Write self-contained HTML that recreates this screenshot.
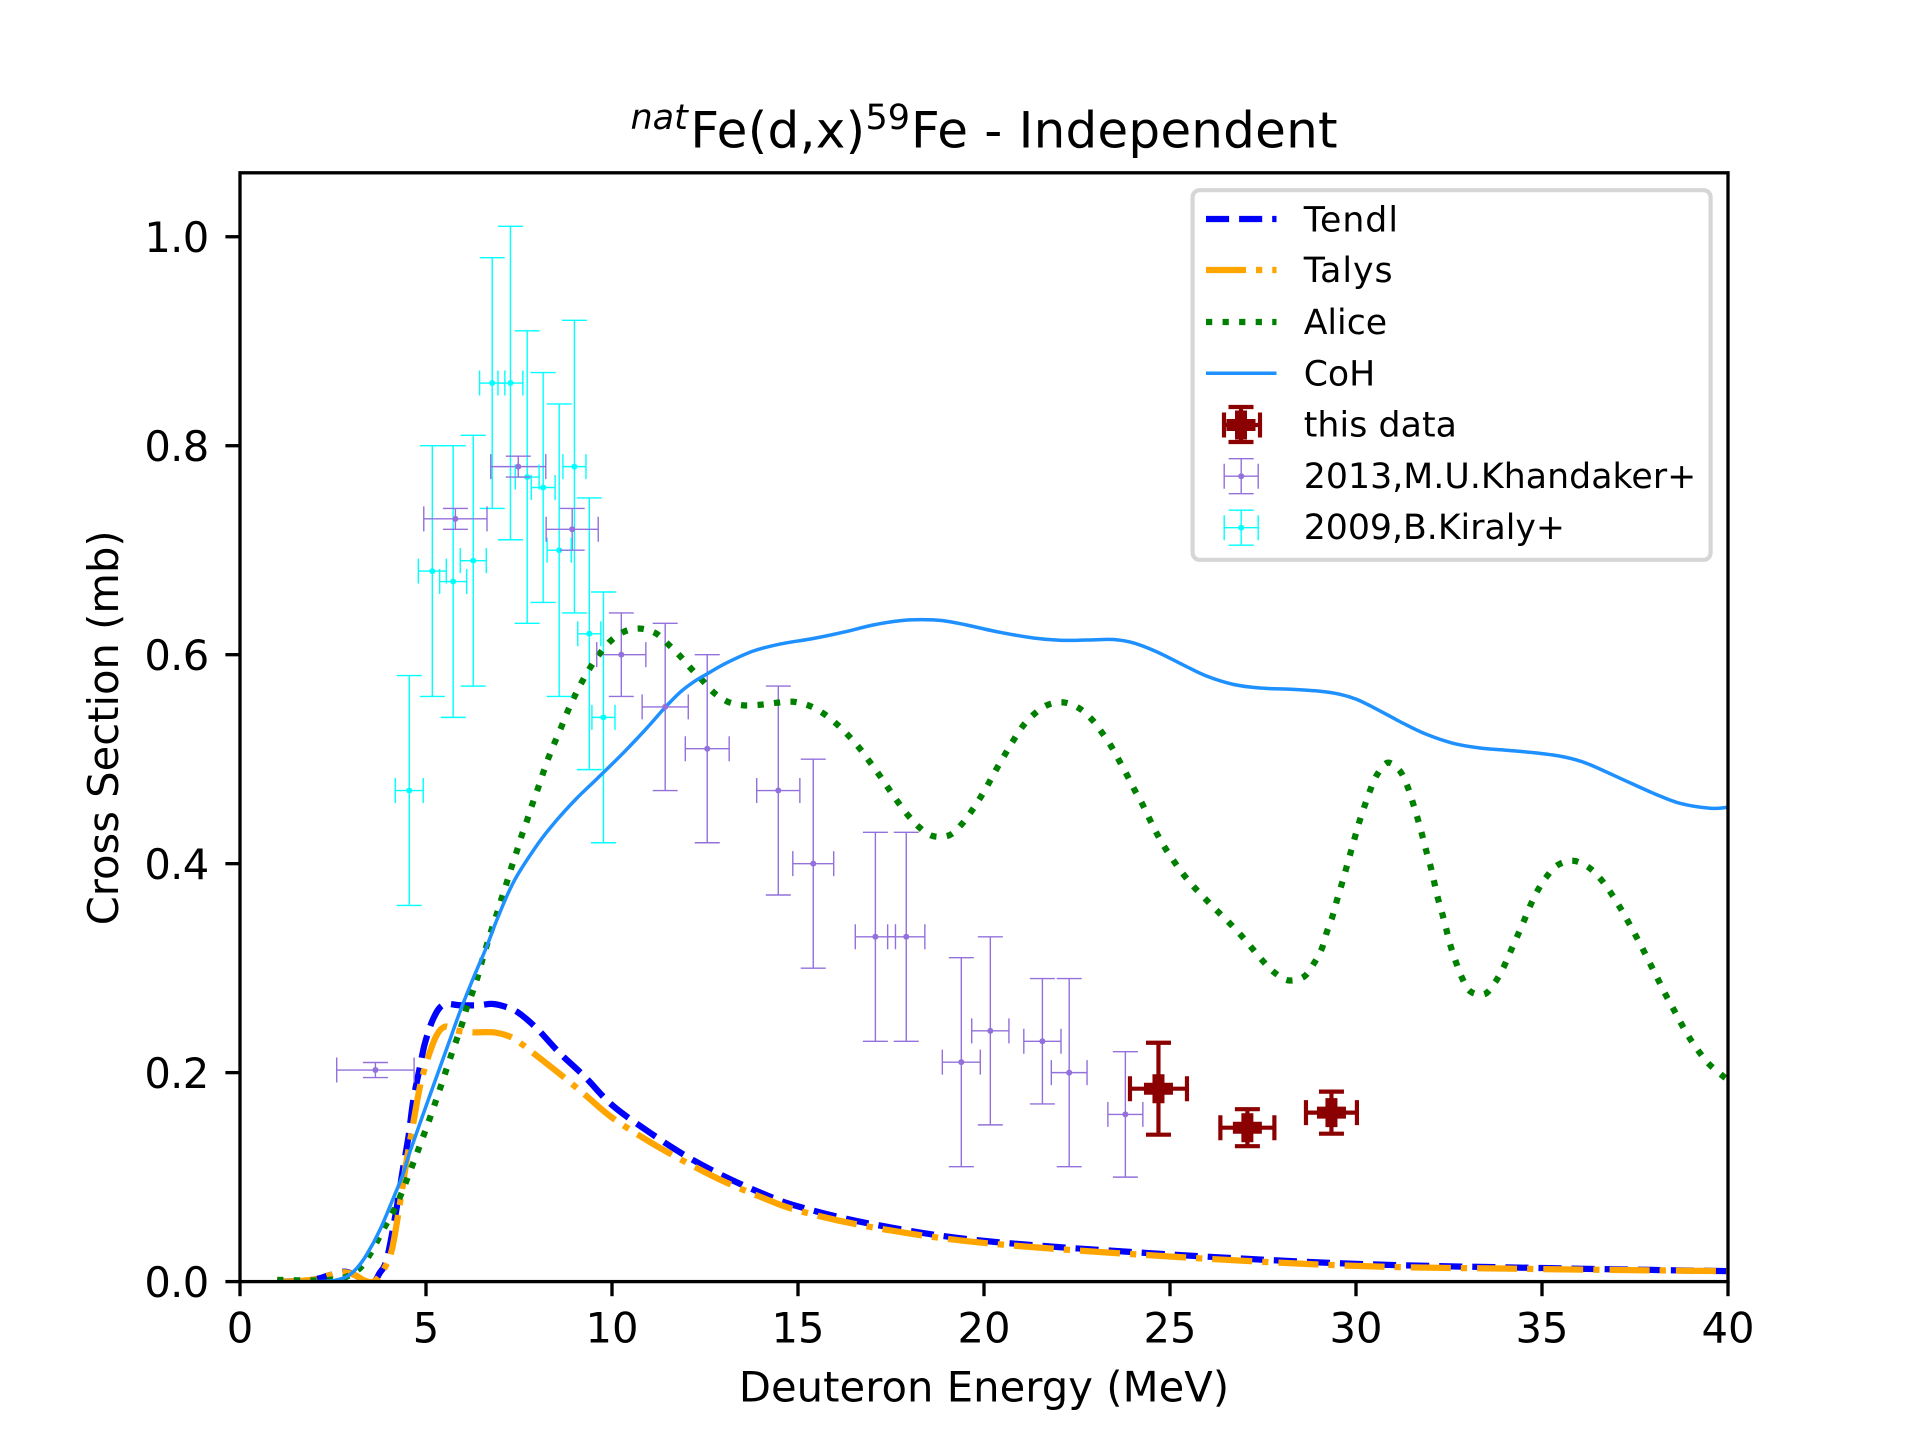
<!DOCTYPE html>
<html lang="en">
<head>
<meta charset="utf-8">
<title>natFe(d,x)59Fe - Independent</title>
<style>
html,body{margin:0;padding:0;background:#fff;}
svg{display:block;}
text{font-family:"DejaVu Sans",sans-serif;fill:#000;}
</style>
</head>
<body>
<svg id="chart" xmlns="http://www.w3.org/2000/svg" width="1920" height="1440" viewBox="0 0 1920 1440">
  <rect x="0" y="0" width="1920" height="1440" fill="#fff"/>
  <defs>
    <clipPath id="axes-clip"><rect x="240" y="172.8" width="1488" height="1108.8"/></clipPath>
  </defs>
  <g id="plot-bars" clip-path="url(#axes-clip)"></g>
  <g id="plot-curves" clip-path="url(#axes-clip)"></g>
  <g id="plot-marks" clip-path="url(#axes-clip)"></g>
  <rect x="240" y="172.8" width="1488" height="1108.8" fill="none" stroke="#000" stroke-width="3.33"/>
  <g id="ticks"></g>

  <text x="630.5" y="147.5" font-size="50"><tspan font-size="35" font-style="italic" y="129">nat</tspan><tspan dx="2.5" y="147.5" letter-spacing="0.3">Fe(d,x)</tspan><tspan font-size="35" y="129">59</tspan><tspan dx="1" y="147.5" letter-spacing="0.2">Fe - Independent</tspan></text>
  <text x="984" y="1401.5" font-size="41.67" text-anchor="middle" letter-spacing="0.06">Deuteron Energy (MeV)</text>
  <text x="0" y="0" font-size="41.67" text-anchor="middle" transform="translate(118 727.8) rotate(-90)">Cross Section (mb)</text>

  <g>
    <rect x="1192.6" y="190.2" width="518" height="369.6" rx="7" ry="7" fill="#fff" fill-opacity="0.8" stroke="#d6d6d6" stroke-width="4.17"/>
    <g>
      <line x1="1206" x2="1276.5" y1="219" y2="219" stroke="#0000ff" stroke-width="6.25" stroke-dasharray="23.1 10"/>
      <text x="1303.7" y="231.7" font-size="34.7" letter-spacing="1">Tendl</text>
    </g>
    <g>
      <line x1="1206" x2="1276.5" y1="270" y2="270" stroke="#ffa500" stroke-width="6.25" stroke-dasharray="40 10 6.25 10"/>
      <text x="1303.7" y="282" font-size="34.7" letter-spacing="1">Talys</text>
    </g>
    <g>
      <line x1="1206" x2="1276.5" y1="322" y2="322" stroke="#008000" stroke-width="6.25" stroke-dasharray="6.25 10.31"/>
      <text x="1303.7" y="333.8" font-size="34.7">Alice</text>
    </g>
    <g>
      <line x1="1206" x2="1276.5" y1="373.3" y2="373.3" stroke="#1e90ff" stroke-width="3.5"/>
      <text x="1303.7" y="385.6" font-size="34.7">CoH</text>
    </g>
    <g fill="none" stroke="#8b0000" stroke-width="4.17">
      <path d="M1241 407V442M1224 425H1260M1228.5 407H1253.5M1228.5 442H1253.5M1224 412.5V437.5M1260 412.5V437.5"/>
      <rect x="1226.5" y="419" width="29" height="12" fill="#8b0000" stroke="none"/>
      <rect x="1235" y="410.5" width="12" height="29" fill="#8b0000" stroke="none"/>
      <text x="1303.7" y="436.4" font-size="34.7" stroke="none" style="fill:#000" letter-spacing="0.1">this data</text>
    </g>
    <g fill="none" stroke="#9370db" stroke-width="1.4">
      <path d="M1241.2 458.7V493.7M1224.2 476.2H1258.2M1228.7 458.7H1253.7M1228.7 493.7H1253.7M1224.2 463.7V488.7M1258.2 463.7V488.7"/>
      <circle cx="1241.2" cy="476.2" r="3" fill="#9370db" stroke="none"/>
      <text x="1303.7" y="487.8" font-size="34.7" stroke="none" style="fill:#000" letter-spacing="0.06">2013,M.U.Khandaker+</text>
    </g>
    <g fill="none" stroke="#00ffff" stroke-width="1.4">
      <path d="M1241.2 510.2V545.2M1224.2 527.7H1258.2M1228.7 510.2H1253.7M1228.7 545.2H1253.7M1224.2 515.2V540.2M1258.2 515.2V540.2"/>
      <circle cx="1241.2" cy="527.7" r="3" fill="#00ffff" stroke="none"/>
      <text x="1303.7" y="539.2" font-size="34.7" stroke="none" style="fill:#000">2009,B.Kiraly+</text>
    </g>
  </g>
</svg>
<script>
// ---------- axis ticks ----------
const xTickValues = [0, 5, 10, 15, 20, 25, 30, 35, 40];
const xTickLabels = ["0", "5", "10", "15", "20", "25", "30", "35", "40"];
const yTickValues = [0, 0.2, 0.4, 0.6, 0.8, 1.0];
const yTickLabels = ["0.0", "0.2", "0.4", "0.6", "0.8", "1.0"];

// ---------- model curves ----------
const tendlEnergy = [1,1.5,2,2.4,2.8,3.1,3.35,3.6,3.75,3.94,4.17,4.39,4.53,4.66,4.84,4.97,5.2,5.47,5.91,6.41,6.81,7.26,7.57,8.02,8.6,9.27,10,11,12,13,14,15,17,20,25,30,35,40];
const tendlValues = [0,.0005,.002,.006,.0095,.006,.0005,0,.008,.0207,.062,.11,.139,.174,.206,.228,.252,.265,.2645,.2645,.2657,.2615,.2551,.2408,.2185,.1961,.169,.143,.12,.101,.085,.072,.055,.039,.026,.017,.013,.01];

const talysEnergy = [1,1.5,2,2.4,2.8,3.1,3.35,3.6,3.85,4.08,4.3,4.48,4.66,4.84,5.06,5.29,5.51,5.8,6.23,6.81,7.26,7.57,7.84,8.69,9.3,10,11,12,13,14,15,17,20,25,30,35,40];
const talysValues = [0,.0005,.002,.006,.009,.006,.001,0,.011,.03,.075,.116,.152,.187,.215,.236,.244,.2405,.2386,.2386,.2344,.2274,.22,.1961,.178,.157,.134,.114,.096,.081,.068,.052,.037,.024,.015,.012,.01];

const aliceEnergy = [1,2,2.5,2.87,3.23,3.49,3.9,4.12,4.3,4.48,4.79,5.1,5.38,5.66,5.96,6.08,6.24,6.38,6.5,6.63,6.76,6.9,7.03,7.17,7.3,7.44,7.57,7.72,7.86,8.01,8.15,8.3,8.46,8.64,8.81,8.99,9.2,9.42,9.67,9.96,10.32,10.75,11.18,11.51,11.83,12.12,12.43,12.74,13.11,13.54,13.99,14.43,14.87,15.3,15.69,16.04,16.35,16.65,16.92,17.18,17.43,17.68,17.96,18.26,18.62,19.06,19.39,19.66,19.9,20.13,20.34,20.57,20.79,21.04,21.34,21.7,22.13,22.55,22.89,23.16,23.41,23.63,23.84,24.04,24.26,24.45,24.65,24.87,25.12,25.38,25.67,25.98,26.29,26.6,26.91,27.2,27.49,27.8,28.18,28.6,28.87,29.08,29.21,29.36,29.48,29.61,29.73,29.85,29.97,30.09,30.23,30.38,30.56,30.85,31.18,31.38,31.52,31.65,31.77,31.88,32,32.1,32.2,32.32,32.43,32.54,32.68,32.84,33.07,33.46,33.75,33.97,34.15,34.33,34.51,34.68,34.87,35.11,35.41,35.83,36.24,36.56,36.83,37.07,37.29,37.5,37.71,37.91,38.11,38.31,38.52,38.73,38.95,39.2,39.48,39.83,40];
const aliceValues = [.0016,.001,.002,.0048,.013,.026,.053,.067,.081,.097,.126,.156,.185,.215,.2456,.2606,.2759,.2908,.3062,.3215,.3365,.3515,.3664,.3818,.3968,.4118,.4267,.4418,.4571,.4721,.487,.502,.516,.531,.546,.56,.5745,.588,.601,.613,.622,.625,.6204,.61,.5987,.5869,.5754,.5636,.555,.5515,.5521,.554,.555,.5512,.5436,.5336,.5228,.5107,.4979,.4852,.4721,.4593,.4462,.4348,.4265,.4271,.4373,.4501,.4631,.4772,.4909,.5049,.518,.5315,.5429,.5518,.5544,.5489,.5384,.526,.5129,.4989,.4851,.4711,.4568,.4427,.4286,.415,.4016,.3888,.3767,.3652,.354,.3432,.3314,.3193,.3071,.296,.2883,.2918,.3046,.3186,.3339,.3487,.364,.3796,.3946,.4099,.4252,.4401,.4552,.4702,.4848,.4966,.4887,.4743,.4593,.444,.4286,.4133,.398,.3827,.3671,.3521,.3368,.3215,.3065,.2915,.2778,.2752,.2871,.3011,.3157,.3301,.3448,.3595,.3735,.3869,.3984,.4028,.3968,.386,.3731,.3597,.3461,.3324,.3183,.304,.2899,.2755,.2618,.2478,.2341,.221,.2085,.1977,.193];

const cohEnergy = [1,2,2.51,2.87,3.14,3.4,3.76,4.12,4.39,4.57,5.06,5.56,5.93,6.27,6.63,6.92,7.37,8.02,8.51,9.05,9.59,10.31,10.93,11.43,11.83,12.19,12.55,13.09,13.8,14.52,15.41,16.22,17.02,17.74,18.3,18.91,19.53,20.43,21.33,22.04,22.76,23.48,24.02,24.64,25.36,25.98,26.7,27.42,28.31,29.03,29.57,30.01,30.55,31.27,31.89,32.61,33.33,34.05,34.86,35.57,36.2,37.1,38,38.71,39.52,40];
const cohValues = [0,0,.001,.0048,.0128,.0255,.0494,.0797,.1037,.1244,.1738,.2233,.26,.2903,.3205,.3475,.3835,.4195,.4415,.4625,.481,.5062,.5295,.5496,.564,.5738,.5815,.5923,.6035,.6102,.6155,.6215,.6284,.6325,.6335,.6325,.6284,.6214,.616,.6138,.614,.6145,.6112,.6028,.5901,.5796,.5716,.5681,.5668,.565,.5621,.5573,.548,.5343,.5238,.5152,.5107,.5085,.5059,.5023,.496,.4817,.4673,.4577,.453,.454];

// ---------- measurements ----------
const thisEnergy = [24.69, 27.08, 29.34];
const thisValues = [0.1846, 0.1473, 0.1617];
const thisEnergyErr = [0.766, 0.726, 0.685];
const thisValueErr = [0.044, 0.0177, 0.0201];

const khandakerEnergy = [3.64, 5.79, 7.48, 8.93, 10.25, 11.43, 12.56, 14.47, 15.41, 17.08, 17.91, 19.39, 20.17, 21.57, 22.29, 23.8];
const khandakerValues = [0.2025, 0.73, 0.78, 0.72, 0.60, 0.55, 0.51, 0.47, 0.40, 0.33, 0.33, 0.21, 0.24, 0.23, 0.20, 0.16];
const khandakerEnergyErr = [1.04, 0.85, 0.74, 0.70, 0.66, 0.62, 0.59, 0.58, 0.55, 0.54, 0.50, 0.51, 0.50, 0.50, 0.48, 0.47];
const khandakerValueErr = [0.0072, 0.01, 0.01, 0.02, 0.04, 0.08, 0.09, 0.10, 0.10, 0.10, 0.10, 0.10, 0.09, 0.06, 0.09, 0.06];

const kiralyEnergy = [4.55, 5.17, 5.73, 6.27, 6.78, 7.27, 7.72, 8.15, 8.58, 8.99, 9.39, 9.77];
const kiralyValues = [0.47, 0.68, 0.67, 0.69, 0.86, 0.86, 0.77, 0.76, 0.70, 0.78, 0.62, 0.54];
const kiralyEnergyErr = [0.376, 0.376, 0.363, 0.35, 0.34, 0.335, 0.32, 0.32, 0.325, 0.31, 0.31, 0.31];
const kiralyValueErr = [0.11, 0.12, 0.13, 0.12, 0.12, 0.15, 0.14, 0.11, 0.14, 0.14, 0.13, 0.12];

// ---------- axis functions ----------
const X_MIN = 0, X_MAX = 40, Y_MIN = 0, Y_MAX = 1.0612;
const LEFT = 240, RIGHT = 1728, TOP = 172.8, BOTTOM = 1281.6;
function xScale(v) { return LEFT + (v - X_MIN) / (X_MAX - X_MIN) * (RIGHT - LEFT); }
function yScale(v) { return BOTTOM - (v - Y_MIN) / (Y_MAX - Y_MIN) * (BOTTOM - TOP); }

const NS = 'http://www.w3.org/2000/svg';
function mk(tag, attrs, parent) {
  const el = document.createElementNS(NS, tag);
  for (const k in attrs) el.setAttribute(k, attrs[k]);
  parent.appendChild(el);
  return el;
}

const ticksG = document.getElementById('ticks');
const barsG = document.getElementById('plot-bars');
const curvesG = document.getElementById('plot-curves');
const marksG = document.getElementById('plot-marks');

xTickValues.forEach(function (v, i) {
  const t = mk('line', {x1: xScale(v), x2: xScale(v), y1: BOTTOM, y2: BOTTOM + 14.6, stroke: '#000', 'stroke-width': 3.33}, ticksG);
  
  
  const l = mk('text', {x: xScale(v), y: 1342.7, 'font-size': 41.67, 'text-anchor': 'middle'}, ticksG);
  l.textContent = xTickLabels[i];
  
  
});
yTickValues.forEach(function (v, i) {
  const t = mk('line', {x1: LEFT - 14.6, x2: LEFT, y1: yScale(v), y2: yScale(v), stroke: '#000', 'stroke-width': 3.33}, ticksG);
  
  
  const l = mk('text', {x: 208.5, y: yScale(v) + 15.2, 'font-size': 41.67, 'text-anchor': 'end', 'letter-spacing': -0.7}, ticksG);
  l.textContent = yTickLabels[i];
  
  
});

// Smooth path through the data points (Catmull-Rom)
function curvePath(xs, ys) {
  const p = xs.map(function (x, i) { return [xScale(x), yScale(ys[i])]; });
  let d = 'M' + p[0][0].toFixed(2) + ' ' + p[0][1].toFixed(2);
  for (let i = 0; i < p.length - 1; i++) {
    const a = p[Math.max(i - 1, 0)], b = p[i], c = p[i + 1], e = p[Math.min(i + 2, p.length - 1)];
    const c1x = b[0] + (c[0] - a[0]) / 6, c1y = b[1] + (c[1] - a[1]) / 6;
    const c2x = c[0] - (e[0] - b[0]) / 6, c2y = c[1] - (e[1] - b[1]) / 6;
    d += 'C' + c1x.toFixed(2) + ' ' + c1y.toFixed(2) + ' ' + c2x.toFixed(2) + ' ' + c2y.toFixed(2) + ' ' + c[0].toFixed(2) + ' ' + c[1].toFixed(2);
  }
  return d;
}

const tendlLine = mk('path', {d: curvePath(tendlEnergy, tendlValues), fill: 'none', stroke: '#0000ff', 'stroke-width': 6.25, 'stroke-dasharray': '23.1 10'}, curvesG);


const talysLine = mk('path', {d: curvePath(talysEnergy, talysValues), fill: 'none', stroke: '#ffa500', 'stroke-width': 6.25, 'stroke-dasharray': '40 10 6.25 10'}, curvesG);


const aliceLine = mk('path', {d: curvePath(aliceEnergy, aliceValues), fill: 'none', stroke: '#008000', 'stroke-width': 6.25, 'stroke-dasharray': '6.25 10.31'}, curvesG);


const cohLine = mk('path', {d: curvePath(cohEnergy, cohValues), fill: 'none', stroke: '#1e90ff', 'stroke-width': 3.5}, curvesG);



function drawErrorSeries(name, color, xs, ys, xe, ye, lw, capW, plus) {
  xs.forEach(function (x, i) {
    const px = xScale(x), py = yScale(ys[i]);
    const xl = xScale(x - xe[i]), xr = xScale(x + xe[i]);
    const yt = yScale(ys[i] + ye[i]), yb = yScale(ys[i] - ye[i]);
    const hb = mk('line', {x1: xl, x2: xr, y1: py, y2: py, stroke: color, 'stroke-width': lw}, barsG);
    
    
    const vb = mk('line', {x1: px, x2: px, y1: yt, y2: yb, stroke: color, 'stroke-width': lw}, barsG);
    
    
    const capD = 'M' + (px - 12.5) + ' ' + yt + 'H' + (px + 12.5) + 'M' + (px - 12.5) + ' ' + yb + 'H' + (px + 12.5) +
      'M' + xl + ' ' + (py - 12.5) + 'V' + (py + 12.5) + 'M' + xr + ' ' + (py - 12.5) + 'V' + (py + 12.5);
    const cap = mk('path', {d: capD, fill: 'none', stroke: color, 'stroke-width': capW}, marksG);
    
    
    if (plus) {
      const g = mk('path', {d: 'M' + (px - 14.5) + ' ' + (py - 6) + 'H' + (px - 6) + 'V' + (py - 14.5) + 'H' + (px + 6) + 'V' + (py - 6) + 'H' + (px + 14.5) + 'V' + (py + 6) + 'H' + (px + 6) + 'V' + (py + 14.5) + 'H' + (px - 6) + 'V' + (py + 6) + 'H' + (px - 14.5) + 'Z', fill: color}, marksG);
      
      
    } else {
      const c = mk('circle', {cx: px, cy: py, r: 3, fill: color}, marksG);
      
      
    }
  });
}

drawErrorSeries('kiraly', '#00ffff', kiralyEnergy, kiralyValues, kiralyEnergyErr, kiralyValueErr, 1.4, 1.4, false);
drawErrorSeries('khandaker', '#9370db', khandakerEnergy, khandakerValues, khandakerEnergyErr, khandakerValueErr, 1.4, 1.4, false);
drawErrorSeries('this-data', '#8b0000', thisEnergy, thisValues, thisEnergyErr, thisValueErr, 4.17, 4.17, true);
</script>
</body>
</html>
